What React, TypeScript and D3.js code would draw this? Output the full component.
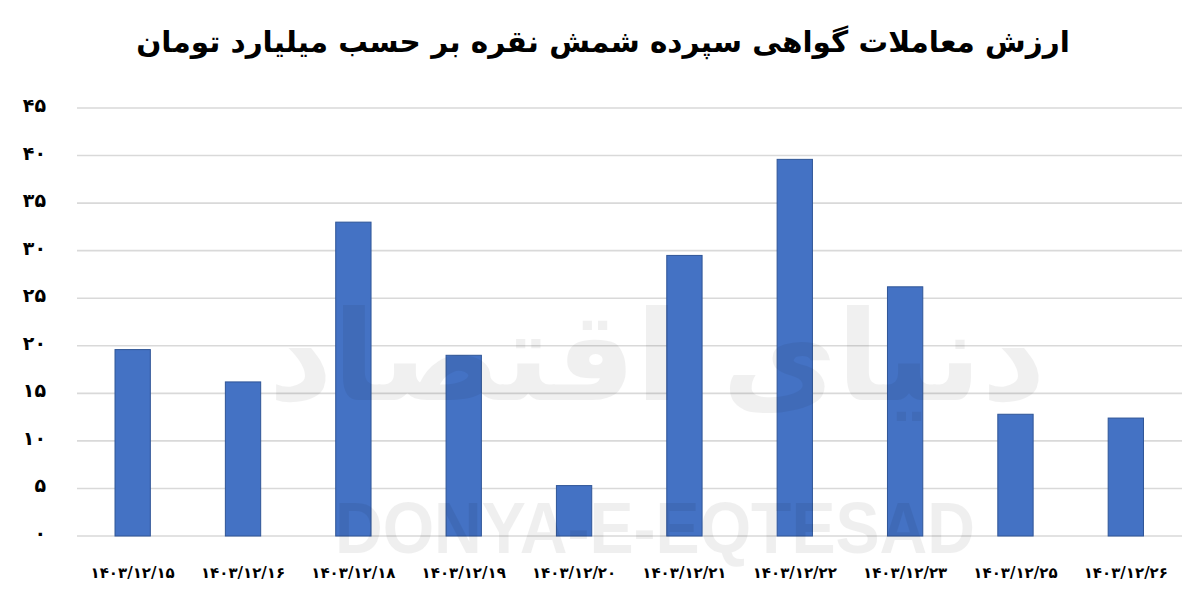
import React from 'react';
import * as d3 from 'd3';

const categories = [
  '۱۴۰۳/۱۲/۱۵',
  '۱۴۰۳/۱۲/۱۶',
  '۱۴۰۳/۱۲/۱۸',
  '۱۴۰۳/۱۲/۱۹',
  '۱۴۰۳/۱۲/۲۰',
  '۱۴۰۳/۱۲/۲۱',
  '۱۴۰۳/۱۲/۲۲',
  '۱۴۰۳/۱۲/۲۳',
  '۱۴۰۳/۱۲/۲۵',
  '۱۴۰۳/۱۲/۲۶',
];
const values = [19.6, 16.2, 33.0, 19.0, 5.3, 29.5, 39.6, 26.2, 12.8, 12.4];
const yTicks = [0, 5, 10, 15, 20, 25, 30, 35, 40, 45];
const title = 'ارزش معاملات گواهی سپرده شمش نقره بر حسب میلیارد تومان';
const watermarkFa = 'دنیای اقتصاد';
const watermarkEn = 'DONYA-E-EQTESAD';

const W = 1200;
const H = 607;
const FONT = "'DejaVu Sans', sans-serif";

const toFa = (n: number) => String(n).replace(/\d/g, (d) => '۰۱۲۳۴۵۶۷۸۹'[+d]);

export default function App() {
  const x = d3
    .scaleBand<string>()
    .domain(categories)
    .range([77.5, 1181])
    .paddingInner(0.68)
    .paddingOuter(0.34);
  const y = d3.scaleLinear().domain([0, 45]).range([536, 108]);

  return (
    <svg
      width={W}
      height={H}
      viewBox={`0 0 ${W} ${H}`}
      style={{ position: 'absolute', left: 0, top: 0, background: '#fff' }}
    >
      <rect x={0} y={0} width={W} height={H} fill="#fff" />
      <text
        x={603}
        y={52}
        textAnchor="middle"
        fontFamily={FONT}
        fontWeight="bold"
        fontSize={29.5}
        fill="#000"
        direction="rtl"
      >
        {title}
      </text>

      {yTicks.map((t) => (
        <g key={t}>
          <line x1={77} x2={1182} y1={y(t)} y2={y(t)} stroke="#d9d9d9" strokeWidth={1.6} />
          <text
            x={46}
            y={y(t) - 3}
            textAnchor="end"
            dominantBaseline="central"
            fontFamily={FONT}
            fontWeight="bold"
            fontSize={19}
            fill="#000"
          >
            {toFa(t)}
          </text>
        </g>
      ))}

      {categories.map((c, i) => (
        <rect
          key={c}
          x={x(c)}
          y={y(values[i])}
          width={x.bandwidth()}
          height={y(0) - y(values[i])}
          fill="#4472C4"
          stroke="#2F5597"
          strokeWidth={1}
        />
      ))}

      {categories.map((c) => (
        <text
          key={'l' + c}
          x={(x(c) as number) + x.bandwidth() / 2}
          y={578}
          textAnchor="middle"
          fontFamily={FONT}
          fontWeight="bold"
          fontSize={15}
          fill="#000"
          direction="ltr"
        >
          {c}
        </text>
      ))}

      <text
        x={657}
        y={400}
        textAnchor="middle"
        fontFamily={FONT}
        fontWeight="bold"
        fontSize={125}
        fill="#000"
        opacity={0.055}
        direction="rtl"
      >
        {watermarkFa}
      </text>
      <text
        x={655}
        y={553}
        textAnchor="middle"
        fontFamily="'Liberation Sans', sans-serif"
        fontWeight="bold"
        fontSize={72}
        textLength={640}
        lengthAdjust="spacingAndGlyphs"
        fill="#000"
        opacity={0.06}
      >
        {watermarkEn}
      </text>
    </svg>
  );
}
